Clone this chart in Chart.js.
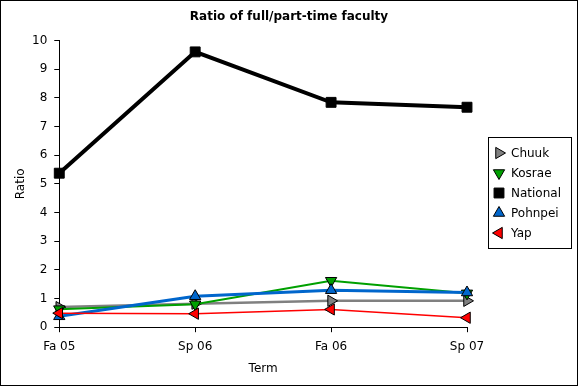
<!DOCTYPE html>
<html><head><meta charset="utf-8">
<script src="https://cdn.jsdelivr.net/npm/chart.js@4"></script>
<style>
html,body{margin:0;padding:0;background:#fff;}
#wrap{width:576px;height:384px;border:1px solid #000;position:relative;}
</style></head>
<body><div id="wrap"><canvas id="c" width="576" height="384"></canvas></div>
<script>
const terms = ["Fa 05", "Sp 06", "Fa 06", "Sp 07"];
const chuuk = [0.70, 0.82, 0.92, 0.92];
const kosrae = [0.63, 0.80, 1.62, 1.18];
const national = [5.37, 9.60, 7.84, 7.67];
const pohnpei = [0.38, 1.08, 1.29, 1.21];
const yap = [0.49, 0.47, 0.62, 0.33];
const yTicks = [0,1,2,3,4,5,6,7,8,9,10];

const FONT = "DejaVu Sans";

function drawMarker(ctx, style, rot, r, x, y, fill, stroke) {
  ctx.save();
  ctx.fillStyle = fill; ctx.strokeStyle = stroke; ctx.lineWidth = 1;
  ctx.beginPath();
  if (style === 'rect') {
    const s = Math.SQRT1_2 * r;
    ctx.rect(x - s, y - s, 2 * s, 2 * s);
  } else {
    let a = rot * Math.PI / 180;
    for (let i = 0; i < 3; i++) {
      const px = x + Math.sin(a) * r, py = y - Math.cos(a) * r;
      if (i === 0) ctx.moveTo(px, py); else ctx.lineTo(px, py);
      a += 2 * Math.PI / 3;
    }
    ctx.closePath();
  }
  ctx.fill(); ctx.stroke();
  ctx.restore();
}

const customLegend = {
  id: 'customLegend',
  afterDraw(chart) {
    const ctx = chart.ctx;
    const left = 487, top = 136, w = 83, h = 111;
    ctx.save();
    ctx.strokeStyle = '#000'; ctx.lineWidth = 1;
    ctx.strokeRect(left + 0.5, top + 0.5, w, h);
    ctx.font = '12px "' + FONT + '"';
    ctx.textBaseline = 'middle'; ctx.textAlign = 'left'; ctx.fillStyle = '#000';
    chart.data.datasets.forEach((d, i) => {
      const y = top + 16 + i * 20;
      drawMarker(ctx, d.pointStyle, d.pointRotation, d.pointStyle === 'rect' ? 7 : 6.5, left + 11, y,
        d.pointBackgroundColor, d.pointBorderColor);
      ctx.fillStyle = '#000';
      ctx.fillText(d.label, left + 23, y + 1);
    });
    ctx.restore();
  }
};

function ds(label, data, color, style, rot, lw, r, order) {
  return { label, data, borderColor: color, backgroundColor: color,
    pointBackgroundColor: color, pointBorderColor: style === 'rect' ? color : '#000',
    pointBorderWidth: 1, pointStyle: style, pointRotation: rot,
    pointRadius: r, pointHoverRadius: r, borderWidth: lw, tension: 0, yAxisID: 'y', order };
}

new Chart(document.getElementById('c'), {
  type: 'line',
  data: {
    labels: terms,
    datasets: [
      ds('Chuuk', chuuk, '#808080', 'triangle', 90, 2.5, 6.5, 5),
      ds('Kosrae', kosrae, '#00a000', 'triangle', 180, 2, 6.5, 4),
      ds('National', national, '#000000', 'rect', 0, 4, 7, 3),
      ds('Pohnpei', pohnpei, '#0066cc', 'triangle', 0, 3, 6.5, 2),
      ds('Yap', yap, '#ff0000', 'triangle', 270, 1.5, 6.5, 1)
    ]
  },
  options: {
    responsive: false, animation: false,
    layout: { padding: { left: 14, right: 14, top: 0, bottom: 3 } },
    plugins: {
      title: { display: true, text: 'Ratio of full/part-time faculty', color: '#000',
        font: { family: FONT, size: 12, weight: 'bold' }, padding: { top: 9, bottom: 16 } },
      legend: { display: false },
      tooltip: { enabled: false }
    },
    scales: {
      x: { type: 'category', offset: false,
        grid: { display: true, drawOnChartArea: false, drawTicks: true, tickLength: 5, color: '#000' },
        border: { display: true, color: '#000', width: 1 },
        ticks: { color: '#000', font: { family: FONT, size: 12 }, padding: 7, maxRotation: 0 },
        title: { display: true, text: 'Term', color: '#000', font: { family: FONT, size: 12 }, padding: { top: 1, bottom: 6 } } },
      y: { min: 0, max: 10, position: 'left', afterBuildTicks: (s) => { s.ticks = yTicks.map(v => ({ value: v })); },
        grid: { display: true, drawOnChartArea: false, drawTicks: true, tickLength: 5, color: '#000' },
        border: { display: true, color: '#000', width: 1 },
        ticks: { color: '#000', font: { family: FONT, size: 12 }, padding: 7 },
        title: { display: true, text: 'Ratio', color: '#000', font: { family: FONT, size: 12, lineHeight: 1 }, padding: { top: 0, bottom: -2 } } },
      legendSpace: { type: 'linear', position: 'right', display: true,
        grid: { display: false }, border: { display: false }, ticks: { display: false },
        afterFit: (s) => { s.width = 96; } }
    }
  },
  plugins: [customLegend]
});
</script></body></html>
